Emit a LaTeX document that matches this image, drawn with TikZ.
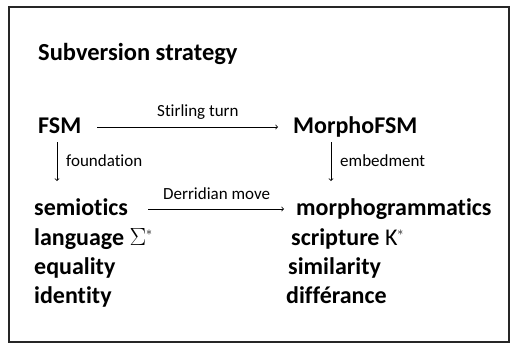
\documentclass[tikz,border=0pt]{standalone}
\usepackage{fontspec}
\setmainfont{Carlito}[Ligatures=NoCommon]
\begin{document}
\begin{tikzpicture}[x=1pt,y=-1pt,
  big/.style={anchor=base west,inner sep=0pt,font=\fontsize{24}{24}\selectfont\bfseries},
  lbl/.style={anchor=base west,inner sep=0pt,font=\fontsize{17}{17}\selectfont},
  arr/.style={->,>=to,line width=0.8pt}]
\useasboundingbox (0,0) rectangle (514,349);
\draw[line width=1.6pt,draw=black!85] (9,7) rectangle (509,342);
\node[anchor=base west,inner sep=0pt,font=\fontsize{24.5}{24.5}\selectfont\bfseries] (title) at (38,60) {Subversion strategy};
\node[big] (fsm) at (38,133) {FSM};
\node[big] (mfsm) at (293,133) {MorphoFSM};
\node[big] (sem) at (34,215) {semiotics};
\node[big] (morph) at (296,215) {morphogrammatics};
\node[big] (lang) at (34,245) {language $\Sigma^{\scriptscriptstyle *}$};
\node[big] (scr) at (291,245) {scripture $\mathrm{K}^{\scriptscriptstyle *}$};
\node[big] (eq) at (34,274) {equality};
\node[big] (sim) at (288,274) {similarity};
\node[big] (id) at (34,303) {identity};
\node[big] (dif) at (286,303) {différance};
\coordinate (a1) at (97,127); \coordinate (a2) at (278,127);
\draw[arr] (a1) -- (a2);
\node[lbl] (st) at (157,116) {Stirling turn};
\coordinate (b1) at (57,142); \coordinate (b2) at (57,181);
\draw[arr] (b1) -- (b2);
\node[lbl] (fo) at (66,166) {foundation};
\coordinate (c1) at (331,142); \coordinate (c2) at (331,181);
\draw[arr] (c1) -- (c2);
\node[lbl] (em) at (340,166) {embedment};
\coordinate (d1) at (148,209); \coordinate (d2) at (284,209);
\draw[arr] (d1) -- (d2);
\node[lbl] (dm) at (163,199) {Derridian move};
\end{tikzpicture}
\end{document}
